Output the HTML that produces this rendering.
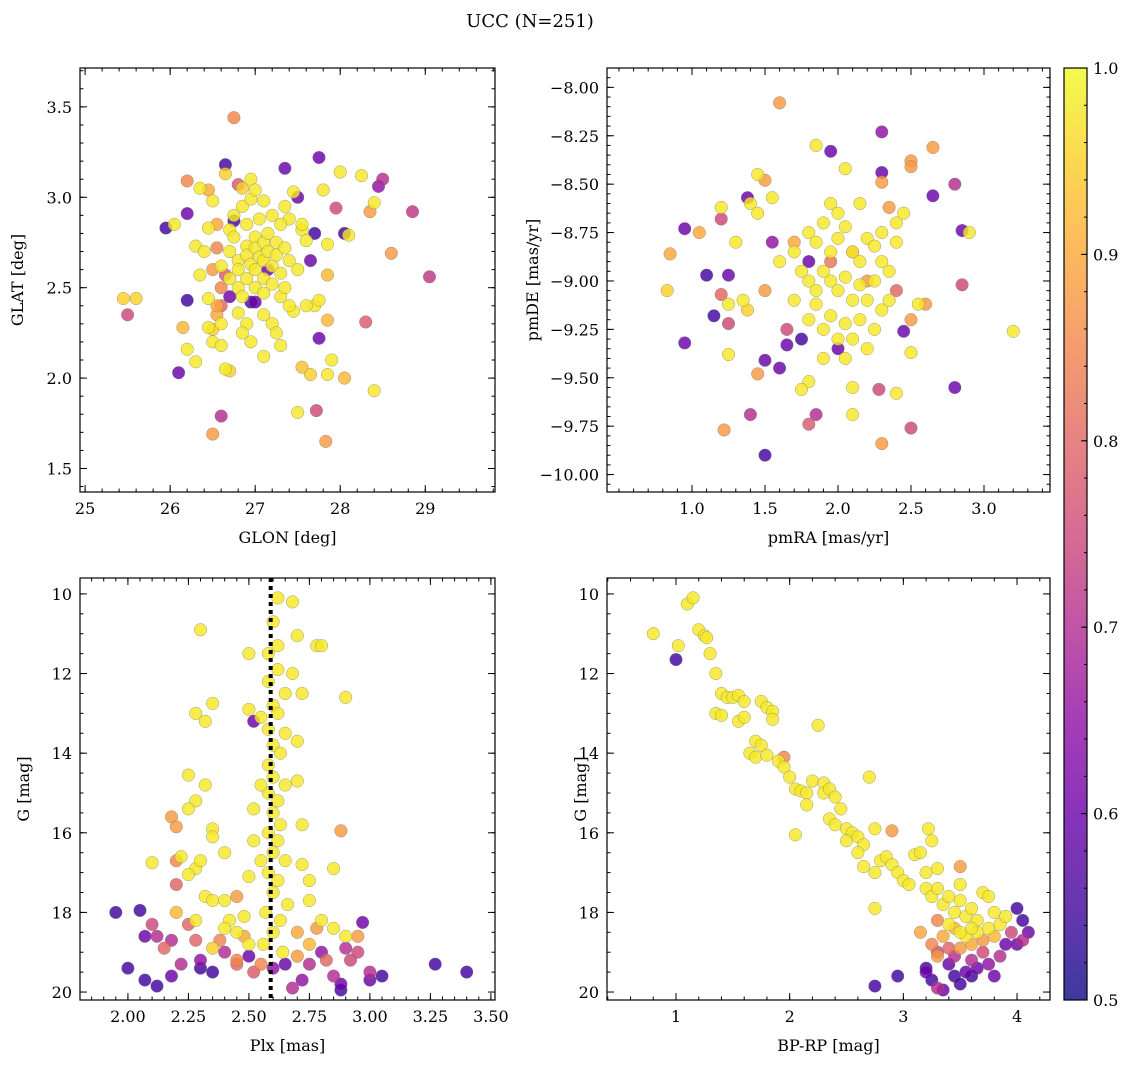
<!DOCTYPE html>
<html><head><meta charset="utf-8">
<style>
html,body{margin:0;padding:0;background:#fff;}
svg{display:block;font-family:"DejaVu Serif","Liberation Serif",serif;}
</style></head>
<body>
<svg id="fig" width="1136" height="1067" viewBox="0 0 1136 1067" xmlns="http://www.w3.org/2000/svg">
<text x="530" y="27" font-size="18" text-anchor="middle">UCC (N=251)</text>
<defs>
<linearGradient id="cbgrad" x1="0" y1="1" x2="0" y2="0">
<stop offset="0" stop-color="#0d0887"/><stop offset="0.1" stop-color="#41049d"/><stop offset="0.2" stop-color="#6a00a8"/><stop offset="0.3" stop-color="#8f0da4"/><stop offset="0.4" stop-color="#b12a90"/><stop offset="0.5" stop-color="#cc4778"/><stop offset="0.6" stop-color="#e16462"/><stop offset="0.7" stop-color="#f2844b"/><stop offset="0.8" stop-color="#fca636"/><stop offset="0.9" stop-color="#fcce25"/><stop offset="1" stop-color="#f0f921"/>
</linearGradient>
</defs>
</svg>
<script>
// ---- data: top-left (GLON, GLAT, prob)
const glon=[26.75,25.45,25.6,25.5,26.1,26.5,26.6,27.72,27.83,28.4,27.5,28.3,28.6,28.85,29.05,28.5,28.45,28.25,28.0,27.75,27.35,26.65,26.65,25.95,26.2,26.2,26.2,26.15,26.3,26.2,26.05,26.3,26.35,26.45,26.5,26.5,26.65,26.7,27.1,27.55,27.65,27.85,27.9,28.05,27.85,27.75,28.1,28.05,27.85,27.95,27.8,28.35,28.4,27.7,27.75,27.85,27.65,27.7,27.55,27.6,27.5,27.45,27.6,27.55,27.4,27.35,27.45,27.5,
26.5,26.45,26.55,26.55,26.6,26.6,26.6,26.55,26.6,26.7,26.7,26.7,26.7,26.75,26.75,26.8,26.8,26.8,26.8,26.85,26.85,26.9,26.9,26.9,26.9,26.9,26.95,26.95,27.0,27.0,27.0,27.0,27.0,27.05,27.05,27.1,27.1,27.1,27.1,27.1,27.15,27.15,27.2,27.2,27.2,27.25,27.25,27.3,27.3,27.3,27.35,27.35,27.4,27.4,26.75,26.65,26.5,26.45,26.4,26.35,26.95,26.85,27.0,27.1,26.85,27.2,27.25,26.95,27.15,26.95,27.3,26.8,26.55,26.45,26.6];
const glat=[3.44,2.44,2.44,2.35,2.03,1.69,1.79,1.82,1.65,1.93,1.81,2.31,2.69,2.92,2.56,3.1,3.06,3.12,3.14,3.22,3.16,3.18,3.13,2.83,2.91,3.09,2.43,2.28,2.09,2.16,2.85,2.73,2.57,2.44,2.27,2.2,2.05,2.04,2.12,2.06,2.02,2.02,2.1,2.0,2.32,2.22,2.79,2.8,2.74,2.94,3.04,2.92,2.97,2.4,2.43,2.57,2.65,2.8,2.82,2.76,2.6,2.37,2.4,2.85,2.88,2.95,3.03,3.0,
2.98,3.04,2.85,2.72,2.62,2.5,2.4,2.35,2.3,2.82,2.7,2.55,2.45,2.9,2.78,2.65,2.6,2.5,2.36,2.95,2.45,2.85,2.73,2.68,2.55,2.3,2.99,2.63,2.78,2.72,2.6,2.5,2.42,2.88,2.67,2.75,2.65,2.55,2.47,2.35,2.8,2.7,2.9,2.62,2.52,2.75,2.68,2.58,2.45,2.85,2.72,2.5,2.65,2.4,2.87,2.57,2.6,2.83,2.7,3.05,3.1,3.05,3.04,2.98,2.25,2.3,2.25,2.2,2.6,2.42,2.18,3.07,2.4,2.28,2.18];
const probA=[0.85,0.95,0.95,0.75,0.6,0.88,0.7,0.75,0.88,0.98,0.98,0.78,0.88,0.72,0.72,0.7,0.65,0.98,0.98,0.6,0.6,0.55,0.95,0.55,0.6,0.85,0.55,0.92,0.98,0.98,0.98,0.98,0.98,0.98,0.95,0.98,0.98,0.95,0.98,0.93,0.95,0.98,0.98,0.92,0.92,0.6,0.98,0.55,0.98,0.75,0.98,0.88,0.98,0.98,0.98,0.92,0.6,0.55,0.98,0.98,0.98,0.98,0.98,0.98,0.98,0.98,0.98,0.6,
0.98,0.9,0.9,0.85,0.98,0.85,0.8,0.9,0.98,0.98,0.98,0.98,0.6,0.98,0.98,0.98,0.98,0.98,0.98,0.98,0.98,0.98,0.98,0.98,0.98,0.98,0.98,0.98,0.98,0.98,0.98,0.98,0.6,0.98,0.98,0.98,0.98,0.98,0.98,0.98,0.98,0.98,0.98,0.98,0.98,0.98,0.98,0.98,0.98,0.98,0.98,0.98,0.98,0.98,0.55,0.78,0.88,0.98,0.98,0.98,0.98,0.95,0.98,0.98,0.98,0.98,0.98,0.98,0.6,0.55,0.98,0.78,0.9,0.98,0.98];
// ---- data: top-right (pmRA, pmDE, prob)
const pmra=[1.6,2.3,1.85,1.95,2.65,2.5,2.5,2.3,2.3,2.65,2.8,2.05,1.45,1.5,1.38,1.4,1.45,1.55,1.2,1.2,1.05,0.95,0.85,0.83,1.1,1.25,0.95,1.15,1.2,1.25,1.25,1.25,1.22,1.4,1.5,1.45,1.5,1.6,1.8,1.85,2.1,2.3,2.4,2.5,2.28,2.1,2.8,3.2,2.85,2.9,2.85,2.5,2.45,2.5,2.55,2.6,1.8,1.75,1.65,1.3,1.35,1.38,1.5,1.55,1.6,1.65,
1.8,1.85,1.9,1.95,2.0,2.05,2.1,2.15,2.2,2.25,2.3,2.35,2.4,1.75,1.8,1.85,1.9,1.95,2.0,2.05,2.1,2.15,2.2,2.25,2.3,2.35,1.8,1.85,1.9,1.95,2.0,2.05,2.1,2.15,2.2,2.25,1.7,1.7,1.95,2.0,2.15,1.9,2.05,1.8,2.0,1.75,2.4,1.95,2.1,2.2,1.7,2.3,2.4,2.45,2.35];
const pmde=[-8.08,-8.23,-8.3,-8.33,-8.31,-8.38,-8.41,-8.44,-8.49,-8.56,-8.5,-8.42,-8.45,-8.48,-8.57,-8.6,-8.65,-8.57,-8.62,-8.68,-8.75,-8.73,-8.86,-9.05,-8.97,-8.97,-9.32,-9.18,-9.07,-9.12,-9.22,-9.38,-9.77,-9.69,-9.9,-9.48,-9.41,-9.45,-9.74,-9.69,-9.69,-9.84,-9.58,-9.76,-9.56,-9.55,-9.55,-9.26,-9.02,-8.75,-8.74,-9.37,-9.26,-9.2,-9.12,-9.12,-9.52,-9.56,-9.33,-8.8,-9.1,-9.15,-9.05,-8.8,-8.9,-9.25,
-8.75,-8.8,-8.7,-8.85,-8.78,-8.72,-8.85,-8.9,-8.78,-8.82,-8.9,-8.95,-8.8,-8.95,-9.0,-9.05,-8.95,-9.0,-9.05,-8.98,-9.1,-9.02,-9.1,-9.0,-9.15,-9.1,-9.2,-9.12,-9.25,-9.18,-9.3,-9.22,-9.3,-9.2,-9.35,-9.25,-9.1,-8.85,-8.6,-8.65,-8.6,-9.4,-9.4,-8.9,-9.35,-9.3,-9.05,-8.9,-8.85,-9.0,-8.8,-8.75,-8.7,-8.65,-8.62];
const probB=[0.88,0.65,0.98,0.6,0.88,0.88,0.88,0.6,0.88,0.6,0.7,0.98,0.98,0.88,0.6,0.98,0.98,0.98,0.98,0.75,0.9,0.6,0.9,0.95,0.55,0.6,0.6,0.55,0.8,0.98,0.75,0.98,0.88,0.7,0.55,0.88,0.6,0.6,0.78,0.7,0.98,0.88,0.98,0.75,0.75,0.98,0.6,0.98,0.75,0.98,0.6,0.98,0.6,0.88,0.98,0.88,0.98,0.98,0.6,0.98,0.98,0.95,0.88,0.65,0.98,0.75,
0.98,0.98,0.98,0.98,0.98,0.98,0.98,0.98,0.98,0.98,0.98,0.98,0.98,0.98,0.98,0.98,0.98,0.98,0.98,0.98,0.98,0.98,0.98,0.98,0.98,0.98,0.98,0.98,0.98,0.98,0.98,0.98,0.98,0.98,0.98,0.98,0.98,0.98,0.98,0.98,0.98,0.98,0.98,0.6,0.6,0.55,0.8,0.82,0.85,0.88,0.9,0.98,0.98,0.98,0.88];
// ---- data: bottom-left (Plx, G, prob)
const plx=[2.62,2.68,2.6,2.62,2.58,2.7,2.78,2.62,2.58,2.65,2.6,2.62,2.55,2.58,2.65,2.6,2.63,2.58,2.6,2.65,2.58,2.62,2.6,2.63,2.58,2.62,2.6,2.65,2.58,2.62,2.6,2.66,2.57,2.63,2.6,2.56,2.64,2.68,2.72,2.7,2.7,2.72,2.72,2.75,2.75,2.55,2.52,2.52,2.55,2.5,2.5,2.5,2.52,2.3,2.28,2.32,2.35,2.32,2.25,2.28,2.25,2.35,2.35,2.4,2.2,2.22,2.28,2.3,2.1,2.18,2.2,2.25,2.32,2.35,2.4,2.45,2.42,2.45,2.48,2.85,2.88,2.9,2.8,
1.95,2.05,2.0,2.07,2.12,2.07,2.1,2.12,2.18,2.18,2.2,2.2,2.25,2.28,2.3,2.3,2.35,2.38,2.4,2.45,2.48,2.5,2.52,2.55,2.6,2.65,2.68,2.72,2.75,2.78,2.8,2.85,2.88,2.88,2.9,2.92,2.95,2.97,3.0,3.0,3.05,3.27,3.4,2.7,2.75,2.8,2.85,2.9,2.35,2.4,2.5,2.45,2.7,2.82,2.95,2.28,2.15,2.22];
const gmagA=[10.1,10.2,10.7,11.3,11.5,11.05,11.3,11.9,12.2,12.5,12.8,13.0,13.1,13.4,13.5,13.8,14.0,14.3,14.6,14.8,15.0,15.2,15.5,15.8,16.0,16.2,16.5,16.7,17.0,17.2,17.5,17.8,18.0,18.2,18.5,18.8,19.0,12.0,12.5,13.7,14.7,15.8,16.8,17.2,17.7,14.8,15.4,16.2,16.7,17.1,12.9,11.5,13.2,10.9,13.0,13.2,12.75,14.8,14.55,15.2,15.4,15.9,16.1,16.5,16.7,16.6,16.9,16.7,16.75,15.6,15.85,17.05,17.6,17.7,17.7,17.6,18.2,18.5,18.1,16.9,15.95,12.6,11.3,
18.0,17.95,19.4,19.7,19.85,18.6,18.3,18.6,18.7,19.6,17.3,18.0,18.3,18.7,19.2,19.4,19.5,18.7,19.0,19.3,18.6,19.1,19.5,19.3,19.4,19.3,19.9,19.7,19.3,18.4,19.0,19.6,19.8,19.95,18.9,19.2,18.6,18.25,19.5,19.7,19.6,19.3,19.5,18.5,18.8,18.2,18.4,18.6,18.9,18.4,18.8,19.2,19.1,19.2,19.0,18.2,18.9,19.3];
const probC=[0.98,0.98,0.98,0.98,0.98,0.98,0.98,0.98,0.98,0.98,0.98,0.98,0.98,0.98,0.98,0.98,0.98,0.98,0.98,0.98,0.98,0.98,0.98,0.98,0.98,0.98,0.98,0.98,0.98,0.98,0.98,0.98,0.98,0.98,0.98,0.98,0.98,0.98,0.98,0.98,0.98,0.98,0.98,0.98,0.98,0.98,0.98,0.98,0.98,0.98,0.98,0.98,0.6,0.98,0.98,0.98,0.98,0.98,0.98,0.98,0.98,0.98,0.98,0.98,0.85,0.98,0.98,0.98,0.98,0.88,0.88,0.98,0.98,0.98,0.98,0.88,0.98,0.98,0.98,0.98,0.88,0.98,0.98,
0.55,0.55,0.55,0.55,0.55,0.6,0.75,0.7,0.7,0.6,0.8,0.92,0.8,0.8,0.65,0.55,0.55,0.85,0.7,0.8,0.9,0.6,0.78,0.85,0.65,0.6,0.7,0.65,0.7,0.88,0.65,0.7,0.6,0.55,0.7,0.75,0.88,0.6,0.7,0.6,0.55,0.55,0.55,0.9,0.92,0.98,0.98,0.98,0.95,0.98,0.98,0.85,0.88,0.8,0.75,0.98,0.8,0.7];
// ---- data: bottom-right (BP-RP, G, prob)
const bprp=[0.8,1.0,1.02,1.1,1.15,1.2,1.25,1.27,1.3,1.35,1.4,1.45,1.5,1.55,1.35,1.4,1.55,1.6,1.6,1.7,1.75,1.65,1.7,1.8,1.75,1.8,1.85,1.85,1.9,1.95,1.95,2.0,2.05,2.1,2.15,2.2,2.25,2.15,2.3,2.3,2.35,2.4,2.45,2.35,2.4,2.5,2.55,2.5,2.6,2.65,2.6,2.05,2.7,2.75,2.8,2.85,2.9,2.95,2.9,2.75,3.0,3.05,3.1,3.15,3.2,3.2,3.25,3.3,3.35,3.4,3.45,3.5,3.55,3.6,3.65,3.7,3.75,3.8,3.5,3.5,3.25,3.3,3.22,2.65,2.75,
2.75,2.95,3.2,3.25,3.3,3.35,3.2,3.3,3.4,3.45,3.5,3.55,3.6,3.65,3.7,3.75,3.8,3.85,3.9,3.95,4.0,4.05,4.0,4.1,4.05,3.3,3.35,3.4,3.45,3.5,3.55,3.6,3.65,3.7,3.75,3.8,3.85,3.9,3.4,3.5,3.6,3.3,3.45,3.6,3.15,3.25];
const gmagB=[11.0,11.65,11.3,10.25,10.1,10.9,11.05,11.1,11.5,12.0,12.5,12.6,12.6,12.55,13.0,13.05,13.2,13.1,12.7,13.7,13.8,14.0,14.1,14.05,12.7,12.85,12.95,13.15,14.2,14.1,14.35,14.6,14.9,14.95,15.0,14.7,13.3,15.3,14.75,15.0,14.9,15.1,15.4,15.65,15.8,15.9,16.0,16.2,16.1,16.3,16.5,16.05,14.6,15.9,16.7,16.6,16.8,17.0,15.95,17.9,17.2,17.3,16.55,16.5,17.0,17.4,17.6,17.4,17.8,17.6,18.0,17.7,18.1,17.9,18.2,17.5,17.6,18.0,16.85,17.3,16.2,16.9,15.9,16.85,17.0,
19.85,19.6,19.4,19.7,19.9,19.95,19.5,19.0,19.3,19.6,19.8,19.5,19.2,19.4,19.0,19.3,19.6,19.1,18.8,18.5,17.9,18.2,18.8,18.5,18.7,18.2,18.6,18.9,18.4,18.9,18.6,18.8,18.5,18.7,18.4,18.6,18.3,18.1,18.3,18.5,18.4,19.1,19.1,19.6,18.5,18.8];
const probD=[0.98,0.55,0.98,0.98,0.98,0.98,0.98,0.98,0.98,0.98,0.98,0.98,0.98,0.98,0.98,0.98,0.98,0.98,0.98,0.98,0.98,0.98,0.98,0.98,0.98,0.98,0.98,0.98,0.98,0.85,0.98,0.98,0.98,0.98,0.98,0.98,0.98,0.98,0.98,0.98,0.98,0.98,0.98,0.98,0.98,0.98,0.98,0.98,0.98,0.98,0.98,0.98,0.98,0.98,0.98,0.98,0.98,0.98,0.88,0.98,0.98,0.98,0.98,0.98,0.98,0.98,0.98,0.98,0.98,0.98,0.98,0.98,0.98,0.98,0.98,0.98,0.98,0.98,0.88,0.98,0.98,0.98,0.98,0.98,0.98,
0.55,0.55,0.55,0.55,0.7,0.6,0.6,0.75,0.6,0.55,0.55,0.6,0.7,0.6,0.75,0.65,0.6,0.7,0.6,0.75,0.55,0.55,0.6,0.6,0.7,0.85,0.9,0.8,0.92,0.88,0.98,0.9,0.98,0.88,0.98,0.92,0.98,0.98,0.98,0.98,0.98,0.88,0.7,0.55,0.9,0.85];
// tick labels
const tlXt=["25","26","27","28","29"], tlYt=["1.5","2.0","2.5","3.0","3.5"];
const trXt=["1.0","1.5","2.0","2.5","3.0"], trYt=["−10.00","−9.75","−9.50","−9.25","−9.00","−8.75","−8.50","−8.25","−8.00"];
const blXt=["2.00","2.25","2.50","2.75","3.00","3.25","3.50"], gTicks=["10","12","14","16","18","20"];
const brXt=["1","2","3","4"], cbTicks=["0.5","0.6","0.7","0.8","0.9","1.0"];
const plxLine=2.59;

const NS="http://www.w3.org/2000/svg";
const svg=document.getElementById('fig');
function el(tag,attrs,parent){const e=document.createElementNS(NS,tag);for(const k in attrs)e.setAttribute(k,attrs[k]);(parent||svg).appendChild(e);return e;}
const stops=[[0,[13,8,135]],[0.1,[65,4,157]],[0.2,[106,0,168]],[0.3,[143,13,164]],[0.4,[177,42,144]],[0.5,[204,71,120]],[0.6,[225,100,98]],[0.7,[242,132,75]],[0.8,[252,166,54]],[0.9,[252,206,37]],[1,[240,249,33]]];
function cmap(p){let t=Math.max(0,Math.min(1,(p-0.5)/0.5));for(let i=1;i<stops.length;i++){if(t<=stops[i][0]){const a=stops[i-1],b=stops[i];const f=(t-a[0])/(b[0]-a[0]);const c=a[1].map((v,j)=>Math.round(v+(b[1][j]-v)*f));return`rgb(${c})`;}}return'rgb(240,249,33)';}
function lin(d0,d1,r0,r1){return v=>r0+(v-d0)/(d1-d0)*(r1-r0);}

function panel(cfg){
  const g=el('g',{});
  
  
  const {L,R,T,B}=cfg;
  const sx=lin(cfg.xd[0],cfg.xd[1],L,R), sy=lin(cfg.yd[0],cfg.yd[1],B,T);
  const pg=el('g',{},g);
  
  
  const order=cfg.x.map((_,i)=>i).sort((a,b)=>cfg.p[a]-cfg.p[b]);
  order.forEach(i=>{
    const c=el('circle',{cx:sx(cfg.x[i]).toFixed(1),cy:sy(cfg.y[i]).toFixed(1),r:6.3,fill:cmap(cfg.p[i]),'fill-opacity':0.82,stroke:'#777','stroke-width':0.5,'stroke-opacity':0.7},pg);
    
    
  });
  if(cfg.vline!==undefined){
    const l=el('line',{x1:sx(cfg.vline),x2:sx(cfg.vline),y1:T,y2:B,stroke:'#000','stroke-width':4,'stroke-dasharray':'4 4'},g);
    
    
  }
  const fr=el('rect',{x:L,y:T,width:R-L,height:B-T,fill:'none',stroke:'#000','stroke-width':1.2},g);
  
  
  const tk=el('g',{stroke:'#000','stroke-width':1},g);
  for(let v=cfg.xmin0;v<=cfg.xd[1]+1e-9;v+=cfg.xminor){const x=sx(v);if(x<L-0.5||x>R+0.5)continue;el('line',{x1:x,x2:x,y1:B,y2:B-3.5},tk);el('line',{x1:x,x2:x,y1:T,y2:T+3.5},tk);}
  for(let v=cfg.ymin0;v<=Math.max(cfg.yd[0],cfg.yd[1])+1e-9;v+=cfg.yminor){const y=sy(v);if(y<T-0.5||y>B+0.5)continue;el('line',{x1:L,x2:L+3.5,y1:y,y2:y},tk);el('line',{x1:R,x2:R-3.5,y1:y,y2:y},tk);}
  cfg.xt.forEach(s=>{const v=parseFloat(s.replace('−','-'));const x=sx(v);el('line',{x1:x,x2:x,y1:B,y2:B-7},tk);el('line',{x1:x,x2:x,y1:T,y2:T+7},tk);
    const t=el('text',{x:x,y:B+22,'font-size':16,'text-anchor':'middle'},g);t.textContent=s;});
  cfg.yt.forEach(s=>{const v=parseFloat(s.replace('−','-'));const y=sy(v);el('line',{x1:L,x2:L+7,y1:y,y2:y},tk);el('line',{x1:R,x2:R-7,y1:y,y2:y},tk);
    const t=el('text',{x:L-8,y:y+6,'font-size':16,'text-anchor':'end'},g);t.textContent=s;});
  const xl=el('text',{x:(L+R)/2,y:B+51,'font-size':16,'text-anchor':'middle'},g);xl.textContent=cfg.xlabel;
  
  const yx=cfg.ylx,yy=(T+B)/2;
  const yl=el('text',{x:yx,y:yy,'font-size':16,'text-anchor':'middle',transform:`rotate(-90 ${yx} ${yy})`},g);yl.textContent=cfg.ylabel;
  
}
panel({name:'glon-glat-panel',L:80,R:495,T:68,B:492,xd:[24.94,29.82],yd:[1.37,3.715],x:glon,y:glat,p:probA,xt:tlXt,yt:tlYt,xmin0:25,xminor:0.2,ymin0:1.4,yminor:0.1,xlabel:'GLON [deg]',ylabel:'GLAT [deg]',ylx:23});
panel({name:'pm-panel',L:607,R:1050,T:68,B:492,xd:[0.418,3.452],yd:[-10.09,-7.90],x:pmra,y:pmde,p:probB,xt:trXt,yt:trYt,xmin0:0.5,xminor:0.1,ymin0:-10.05,yminor:0.05,xlabel:'pmRA [mas/yr]',ylabel:'pmDE [mas/yr]',ylx:538});
panel({name:'plx-g-panel',L:80,R:495,T:578,B:1000,xd:[1.802,3.517],yd:[20.2,9.6],x:plx,y:gmagA,p:probC,xt:blXt,yt:gTicks,xmin0:1.85,xminor:0.05,ymin0:10,yminor:0.5,xlabel:'Plx [mas]',ylabel:'G [mag]',ylx:29,vline:plxLine});
panel({name:'cmd-panel',L:607,R:1050,T:578,B:1000,xd:[0.393,4.29],yd:[20.2,9.6],x:bprp,y:gmagB,p:probD,xt:brXt,yt:gTicks,xmin0:0.4,xminor:0.2,ymin0:10,yminor:0.5,xlabel:'BP-RP [mag]',ylabel:'G [mag]',ylx:586});
const cb=el('g',{});


el('rect',{x:1064,y:68,width:23,height:932,fill:'url(#cbgrad)','fill-opacity':0.8},cb);
el('rect',{x:1064,y:68,width:23,height:932,fill:'none',stroke:'#000','stroke-width':1.2},cb);
const cs=lin(0.5,1.0,1000,68);
for(let v=0.5;v<=1.0001;v+=0.02){const y=cs(v);el('line',{x1:1087,x2:1084,y1:y,y2:y,stroke:'#000'},cb);}
cbTicks.forEach(s=>{const y=cs(parseFloat(s));el('line',{x1:1087,x2:1081,y1:y,y2:y,stroke:'#000'},cb);
  const t=el('text',{x:1093,y:y+6,'font-size':16},cb);t.textContent=s;});
</script>
</body></html>
